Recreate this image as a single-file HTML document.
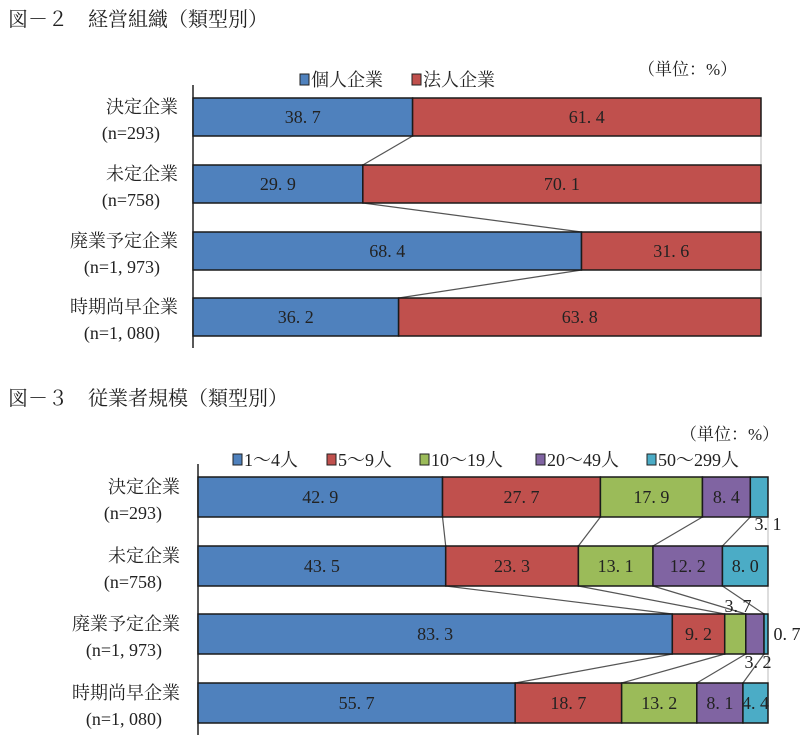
<!DOCTYPE html>
<html><head><meta charset="utf-8"><style>
body{margin:0;background:#fff;}
svg{display:block;font-family:"Liberation Serif","Noto Serif CJK SC",serif;}
</style></head><body>
<svg id="c" width="810" height="743" xmlns="http://www.w3.org/2000/svg">
<text x="8" y="26" font-size="20" fill="#222">図－２　経営組織（類型別）</text>
<text x="638" y="75" font-size="17" fill="#222">（単位：%）</text>
<text x="8" y="405" font-size="20" fill="#222">図－３　従業者規模（類型別）</text>
<text x="680" y="440" font-size="17" fill="#222">（単位：%）</text>
<g id="g1"></g>
<g id="g2"></g>
</svg>
<script>
const cats=["決定企業","未定企業","廃業予定企業","時期尚早企業"];
const ns=["(n=293)","(n=758)","(n=1, 973)","(n=1, 080)"];
const s1Names=["個人企業","法人企業"];
const s1Kojin=[38.7,29.9,68.4,36.2];
const s1Hojin=[61.4,70.1,31.6,63.8];
const s2Names=["1～4人","5～9人","10～19人","20～49人","50～299人"];
const s2a=[42.9,43.5,83.3,55.7];
const s2b=[27.7,23.3,9.2,18.7];
const s2c=[17.9,13.1,3.7,13.2];
const s2d=[8.4,12.2,3.2,8.1];
const s2e=[3.1,8.0,0.7,4.4];
const colors=["#4f81bd","#c0504d","#9bbb59","#8064a2","#4bacc6"];
const NS="http://www.w3.org/2000/svg";
function mk(p,t,a){const e=document.createElementNS(NS,t);for(const k in a)e.setAttribute(k,a[k]);p.appendChild(e);return e;}
function draw(g,series,names,o){
  const {x0,x1,ys,bh,legY,legX,outside}=o;
  const sx=v=>x0+(x1-x0)*v/100;
  let ax=mk(g,"line",{x1:x0,y1:ys[0]-13,x2:x0,y2:ys[3]+bh+12,stroke:"#222","stroke-width":1.5});
  
  
  let rl=mk(g,"line",{x1:x1,y1:ys[0],x2:x1,y2:ys[3]+bh,stroke:"#bbb","stroke-width":1});
  
  
  const cums=cats.map((c,i)=>{const tot=series.reduce((s,a)=>s+a[i],0);let acc=0;return series.map(a=>{acc+=a[i];return acc/tot*100;});});
  for(let i=0;i<cats.length-1;i++){
    for(let k=0;k<series.length-1;k++){
      let l=mk(g,"line",{x1:sx(cums[i][k]),y1:ys[i]+bh,x2:sx(cums[i+1][k]),y2:ys[i+1],stroke:"#555","stroke-width":1.2});
      
      
    }
  }
  cats.forEach((c,i)=>{
    let t1=mk(g,"text",{x:o.lx,y:ys[i]+bh/2-4,"text-anchor":"end","font-size":18,fill:"#222"});t1.textContent=c;
    
    
    let t2=mk(g,"text",{x:o.lx-18,y:ys[i]+bh/2+22,"text-anchor":"end","font-size":18,fill:"#222"});t2.textContent=ns[i];
    
    
    let prev=0;
    series.forEach((a,k)=>{
      const cv=cums[i][k];
      let r=mk(g,"rect",{x:sx(prev),y:ys[i],width:sx(cv)-sx(prev),height:bh,fill:colors[k],stroke:"#1a1a1a","stroke-width":1.5});
      
      
      const v=a[i];
      const key=i+"-"+k;
      let tx=(sx(prev)+sx(cv))/2, ty=ys[i]+bh/2+6;
      if(outside[key]){tx=outside[key][0];ty=outside[key][1];}
      let t=mk(g,"text",{x:tx,y:ty,"text-anchor":"middle","font-size":18,fill:"#222"});
      t.textContent=v.toFixed(1).replace(".",". ");
      t.setAttribute('xml:space','preserve');
      
      
      prev=cv;
    });
  });
  names.forEach((n,k)=>{
    let r=mk(g,"rect",{x:legX[k],y:legY-12,width:9,height:11,fill:colors[k],stroke:"#222","stroke-width":1});
    
    
    let t=mk(g,"text",{x:legX[k]+11,y:legY,"font-size":18,fill:"#222"});t.textContent=n;
    
    
  });
}
draw(document.getElementById("g1"),[s1Kojin,s1Hojin],s1Names,{x0:193,x1:761,ys:[98,165,232,298],bh:38,legY:86,legX:[300,412],lx:178,outside:{}});
draw(document.getElementById("g2"),[s2a,s2b,s2c,s2d,s2e],s2Names,{x0:198,x1:768,ys:[477,546,614,683],bh:40,legY:466,legX:[233,327,420,536,647],lx:180,
 outside:{"0-4":[768,530],"2-2":[738,612],"2-4":[787,640],"2-3":[758,668]}});
</script>
</body></html>
